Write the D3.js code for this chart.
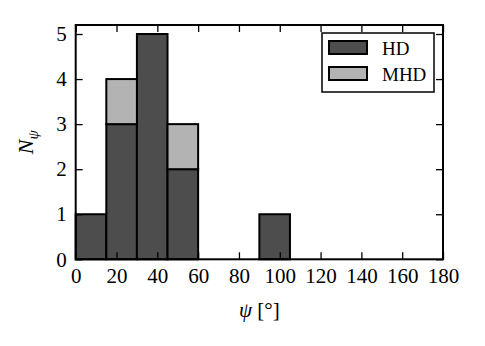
<!DOCTYPE html>
<html>
<head>
<meta charset="utf-8">
<script src="https://cdn.jsdelivr.net/npm/d3@7"></script>
</head>
<body style="margin:0;background:#fff">
<svg id="chart" width="485" height="346"></svg>
<script>
// Data
const binEdges = [0, 15, 30, 45, 60, 75, 90, 105, 120, 135, 150, 165, 180];
const hdCounts = [1, 3, 5, 2, 0, 0, 1, 0, 0, 0, 0, 0];
const mhdCounts = [0, 1, 0, 1, 0, 0, 0, 0, 0, 0, 0, 0];
const xTicks = [0, 20, 40, 60, 80, 100, 120, 140, 160, 180];
const yTicks = [0, 1, 2, 3, 4, 5];
const seriesNames = ["HD", "MHD"];
const seriesColors = ["#4d4d4d", "#b3b3b3"];

const FONT = '"Liberation Serif"';
const svg = d3.select("#chart").attr("font-family", FONT);
const L = 75.7, T = 25, W = 367.3, H = 234.3;
const x = d3.scaleLinear().domain([0, 180]).range([L, L + W]);
const y = d3.scaleLinear().domain([0, 5.2]).range([T + H, T]);

const bins = hdCounts.map((v, i) => ({x0: binEdges[i], x1: binEdges[i + 1], hd: v, mhd: mhdCounts[i]}));

// HD bars
svg.append("g").selectAll("rect").data(bins).join("rect")
  .attr("x", d => x(d.x0)).attr("width", d => x(d.x1) - x(d.x0))
  .attr("y", d => y(d.hd)).attr("height", d => y(0) - y(d.hd))
  .attr("fill", seriesColors[0]).attr("stroke", "#000").attr("stroke-width", 2);
// MHD bars stacked on HD
svg.append("g").selectAll("rect").data(bins.filter(d => d.mhd > 0)).join("rect")
  .attr("x", d => x(d.x0)).attr("width", d => x(d.x1) - x(d.x0))
  .attr("y", d => y(d.hd + d.mhd)).attr("height", d => y(d.hd) - y(d.hd + d.mhd))
  .attr("fill", seriesColors[1]).attr("stroke", "#000").attr("stroke-width", 2);

// Axes with inward ticks on all four sides
const tl = 7;
const axB = svg.append("g").attr("transform", `translate(0,${T + H})`)
  .call(d3.axisBottom(x).tickValues(xTicks).tickSize(-tl).tickPadding(10).tickFormat(d3.format("d")));
const axT = svg.append("g").attr("transform", `translate(0,${T})`)
  .call(d3.axisTop(x).tickValues(xTicks).tickSize(-tl).tickFormat(""));
const axL = svg.append("g").attr("transform", `translate(${L},0)`)
  .call(d3.axisLeft(y).tickValues(yTicks).tickSize(-tl).tickPadding(10).tickFormat(d3.format("d")));
const axR = svg.append("g").attr("transform", `translate(${L + W},0)`)
  .call(d3.axisRight(y).tickValues(yTicks).tickSize(-tl).tickFormat(""));
[axB, axT, axL, axR].forEach(a => {
  a.attr("font-family", FONT).attr("font-size", 21);
  a.select(".domain").remove();
  a.selectAll(".tick line").attr("stroke", "#000").attr("stroke-width", 1.3);
  a.selectAll(".tick text").attr("font-family", FONT).attr("font-size", 21).attr("fill", "#000");
});
axB.selectAll(".tick text").attr("dy", "0.71em").attr("y", 9);
axL.selectAll(".tick text").attr("x", -9);

// Frame
svg.append("rect").attr("x", L).attr("y", T).attr("width", W).attr("height", H)
  .attr("fill", "none").attr("stroke", "#000").attr("stroke-width", 2);

// Axis labels
const xl = svg.append("text").attr("x", L + W / 2).attr("y", 317).attr("text-anchor", "middle")
  .attr("font-family", FONT).attr("font-size", 21).attr("fill", "#000");
xl.append("tspan").attr("font-style", "italic").text("ψ");
xl.append("tspan").text(" [°]");

const yl = svg.append("text").attr("transform", `translate(33,${T + H / 2}) rotate(-90)`).attr("text-anchor", "middle")
  .attr("font-family", FONT).attr("font-size", 22).attr("fill", "#000");
yl.append("tspan").attr("font-style", "italic").text("N");
yl.append("tspan").attr("font-style", "italic").attr("font-size", 15).attr("dy", 5).text("ψ");

// Legend
const lg = svg.append("g");
lg.append("rect").attr("x", 322).attr("y", 33).attr("width", 112).attr("height", 59)
  .attr("fill", "#fff").attr("stroke", "#000").attr("stroke-width", 1.5);
seriesNames.forEach((name, i) => {
  const yy = 41 + i * 26;
  lg.append("rect").attr("x", 329).attr("y", yy).attr("width", 38).attr("height", 13)
    .attr("fill", seriesColors[i]).attr("stroke", "#000").attr("stroke-width", 2);
  lg.append("text").attr("x", 382).attr("y", yy + 14).attr("font-family", FONT)
    .attr("font-size", 19).attr("fill", "#000").text(name);
});
</script>
</body>
</html>
